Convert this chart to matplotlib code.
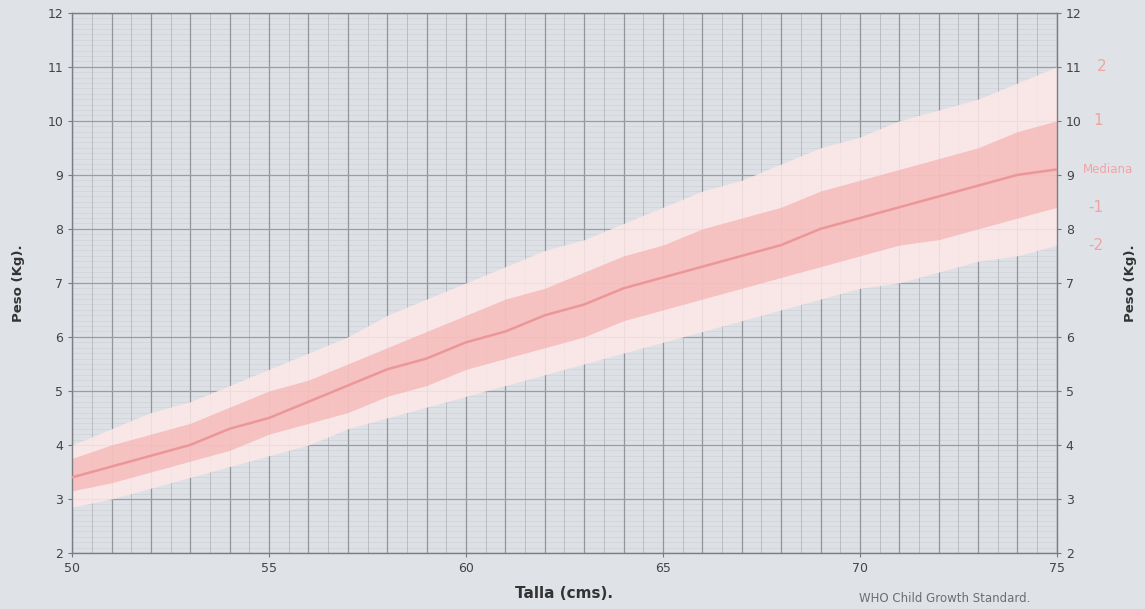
import numpy as np
import matplotlib.pyplot as plt

# WHO weight-for-length (girls)
talla = [50, 51, 52, 53, 54, 55, 56, 57, 58, 59, 60, 61, 62,
         63, 64, 65, 66, 67, 68, 69, 70, 71, 72, 73, 74, 75]
menos2 = [2.85, 3.0, 3.2, 3.4, 3.6, 3.8, 4.0, 4.3, 4.5, 4.7, 4.9, 5.1, 5.3,
          5.5, 5.7, 5.9, 6.1, 6.3, 6.5, 6.7, 6.9, 7.0, 7.2, 7.4, 7.5, 7.7]
menos1 = [3.15, 3.3, 3.5, 3.7, 3.9, 4.2, 4.4, 4.6, 4.9, 5.1, 5.4, 5.6, 5.8,
          6.0, 6.3, 6.5, 6.7, 6.9, 7.1, 7.3, 7.5, 7.7, 7.8, 8.0, 8.2, 8.4]
mediana = [3.4, 3.6, 3.8, 4.0, 4.3, 4.5, 4.8, 5.1, 5.4, 5.6, 5.9, 6.1, 6.4,
           6.6, 6.9, 7.1, 7.3, 7.5, 7.7, 8.0, 8.2, 8.4, 8.6, 8.8, 9.0, 9.1]
mas1 = [3.75, 4.0, 4.2, 4.4, 4.7, 5.0, 5.2, 5.5, 5.8, 6.1, 6.4, 6.7, 6.9,
        7.2, 7.5, 7.7, 8.0, 8.2, 8.4, 8.7, 8.9, 9.1, 9.3, 9.5, 9.8, 10.0]
mas2 = [4.0, 4.3, 4.6, 4.8, 5.1, 5.4, 5.7, 6.0, 6.4, 6.7, 7.0, 7.3, 7.6,
        7.8, 8.1, 8.4, 8.7, 8.9, 9.2, 9.5, 9.7, 10.0, 10.2, 10.4, 10.7, 11.0]

etiquetas = ["2", "1", "Mediana", "-1", "-2"]

bg = "#dfe2e6"
fig = plt.figure(figsize=(11.45, 6.09), dpi=100, facecolor=bg)
ax = fig.add_axes([0.063, 0.092, 0.860, 0.887])
ax.set_facecolor("#dde0e4")

x = np.array(talla)

# grid first (drawn below the semi-transparent bands)
for v in np.arange(2, 12.01, 0.1):
    ax.axhline(v, color="#cfd2d6", lw=0.5, zorder=0)
for v in np.arange(50, 75.01, 0.5):
    ax.axvline(v, color="#b9bcc1", lw=0.7, zorder=0)
for v in range(50, 76):
    ax.axvline(v, color="#92969b", lw=0.9, zorder=0)
for v in range(2, 13):
    ax.axhline(v, color="#9a9ea3", lw=0.9, zorder=0)

# bands
ax.fill_between(x, menos2, mas2, color="#ffe8e8", alpha=0.85, lw=0, zorder=1)
ax.fill_between(x, menos1, mas1, color="#f3a9a9", alpha=0.6, lw=0, zorder=2)
ax.plot(x, mediana, color="#ec9797", lw=1.8, zorder=3)

ax.set_xlim(50, 75)
ax.set_ylim(2, 12)
ax.set_xticks([50, 55, 60, 65, 70, 75])
ax.set_yticks(range(2, 13))
ax.tick_params(axis="both", colors="#777b80", labelcolor="#444444",
               labelsize=9, length=3, width=0.8)
ax.tick_params(axis="y", right=True, labelright=True)
for s in ax.spines.values():
    s.set_color("#7a7e84")
    s.set_linewidth(1.0)

ax.set_xlabel("Talla (cms).", fontsize=11, fontweight="bold",
              color="#333333", labelpad=8)
fig.text(0.016, 0.535, "Peso (Kg).", rotation=90, fontsize=9.5,
         fontweight="bold", color="#333333", ha="center", va="center")
fig.text(0.987, 0.535, "Peso (Kg).", rotation=90, fontsize=9.5,
         fontweight="bold", color="#333333", ha="center", va="center")

# curve labels on the right
finales = [mas2[-1], mas1[-1], mediana[-1], menos1[-1], menos2[-1]]
xpos = [76.15, 76.05, 75.65, 76.0, 76.0]
for lab, yv, xp in zip(etiquetas, finales, xpos):
    ax.text(xp, yv, lab, color="#f1a4a4",
            fontsize=11 if lab != "Mediana" else 8.5,
            ha="left" if lab == "Mediana" else "center", va="center",
            clip_on=False)

fig.text(0.90, 0.018, "WHO Child Growth Standard.", fontsize=8.5,
         color="#6a6e73", ha="right", va="center")

fig.savefig("out.png", dpi=100, facecolor=bg)
